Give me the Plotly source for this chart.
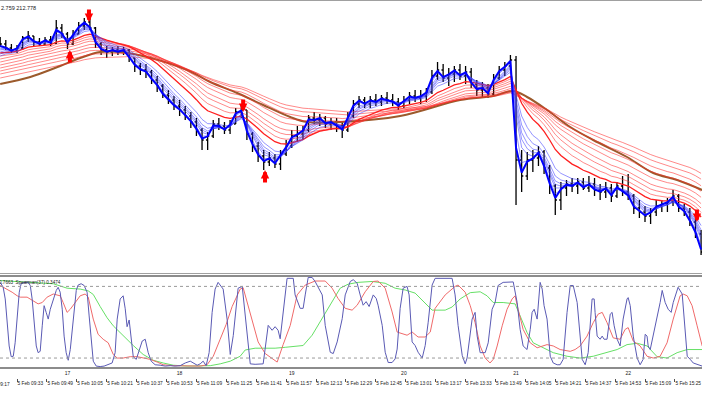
import plotly.graph_objects as go

# ---------------- data ----------------
SESSION_START = "09:24"     # clock time of the first bar
BAR_MINUTES = 3             # bars aggregated to 3 minutes

opens = [213.80, 213.78, 213.76, 213.745, 213.76, 213.81, 213.82, 213.79, 213.78, 213.80,
         213.785, 213.86, 213.83, 213.78, 213.83, 213.87, 213.89, 213.86, 213.78, 213.75,
         213.74, 213.75, 213.74, 213.75, 213.71, 213.67, 213.65, 213.64, 213.60, 213.57,
         213.525, 213.50, 213.47, 213.45, 213.42, 213.39, 213.35, 213.30, 213.32, 213.38,
         213.37, 213.35, 213.38, 213.44, 213.45, 213.33, 213.27, 213.22, 213.19, 213.21,
         213.18, 213.23, 213.27, 213.32, 213.33, 213.35, 213.41, 213.40, 213.41, 213.38,
         213.39, 213.37, 213.35, 213.42, 213.48, 213.50, 213.48, 213.50, 213.49, 213.51,
         213.50, 213.49, 213.47, 213.50, 213.52, 213.51, 213.52, 213.54, 213.62, 213.65,
         213.61, 213.63, 213.65, 213.62, 213.64, 213.58, 213.55, 213.56, 213.53, 213.61,
         213.65, 213.67, 213.70, 213.20, 213.12, 213.20, 213.21, 213.24, 213.16, 213.07,
         213.00, 213.06, 213.08, 213.07, 213.09, 213.06, 213.08, 213.05, 213.04, 213.06,
         213.02, 213.07, 213.04, 213.02, 212.96, 212.94, 212.92, 212.94, 212.97, 212.98,
         212.99, 213.02, 212.96, 212.94, 212.89, 212.83]
highs = [213.815, 213.80, 213.78, 213.775, 213.82, 213.845, 213.82, 213.81, 213.815, 213.82,
         213.90, 213.88, 213.84, 213.85, 213.89, 213.91, 213.92, 213.865, 213.79, 213.77,
         213.765, 213.77, 213.765, 213.755, 213.71, 213.685, 213.68, 213.65, 213.62, 213.58,
         213.55, 213.52, 213.50, 213.47, 213.44, 213.41, 213.36, 213.34, 213.40, 213.41,
         213.39, 213.40, 213.46, 213.48, 213.45, 213.34, 213.29, 213.25, 213.24, 213.23,
         213.25, 213.30, 213.35, 213.37, 213.37, 213.425, 213.44, 213.43, 213.42, 213.41,
         213.41, 213.39, 213.44, 213.50, 213.52, 213.515, 213.52, 213.53, 213.525, 213.54,
         213.53, 213.51, 213.52, 213.54, 213.55, 213.55, 213.56, 213.65, 213.69, 213.68,
         213.66, 213.67, 213.68, 213.67, 213.66, 213.60, 213.59, 213.58, 213.63, 213.67,
         213.69, 213.725, 213.72, 213.25, 213.24, 213.25, 213.27, 213.25, 213.175, 213.08,
         213.09, 213.10, 213.11, 213.11, 213.11, 213.12, 213.11, 213.08, 213.09, 213.08,
         213.09, 213.12, 213.13, 213.03, 213.00, 212.97, 212.96, 213.00, 213.00, 213.01,
         213.05, 213.03, 212.98, 212.96, 212.91, 212.85]
lows = [213.765, 213.75, 213.735, 213.735, 213.75, 213.79, 213.77, 213.77, 213.775, 213.77,
        213.78, 213.81, 213.755, 213.775, 213.83, 213.85, 213.85, 213.76, 213.725, 213.71,
        213.72, 213.725, 213.725, 213.69, 213.64, 213.625, 213.61, 213.58, 213.54, 213.51,
        213.48, 213.45, 213.42, 213.40, 213.36, 213.32, 213.25, 213.25, 213.31, 213.35,
        213.33, 213.33, 213.38, 213.41, 213.30, 213.24, 213.19, 213.15, 213.17, 213.16,
        213.15, 213.22, 213.26, 213.29, 213.30, 213.34, 213.38, 213.37, 213.36, 213.35,
        213.34, 213.31, 213.34, 213.41, 213.46, 213.46, 213.46, 213.47, 213.47, 213.48,
        213.47, 213.45, 213.46, 213.48, 213.49, 213.48, 213.49, 213.53, 213.60, 213.59,
        213.57, 213.59, 213.60, 213.58, 213.56, 213.52, 213.51, 213.51, 213.52, 213.60,
        213.62, 213.65, 212.975, 213.04, 213.10, 213.14, 213.17, 213.13, 213.03, 212.925,
        212.95, 213.02, 213.04, 213.03, 213.05, 213.04, 213.02, 213.00, 213.01, 212.99,
        213.01, 213.02, 213.00, 212.93, 212.91, 212.89, 212.88, 212.92, 212.94, 212.94,
        212.97, 212.94, 212.92, 212.87, 212.81, 212.725]
closes = [213.78, 213.76, 213.745, 213.76, 213.81, 213.82, 213.79, 213.78, 213.80, 213.785,
          213.86, 213.83, 213.78, 213.83, 213.87, 213.89, 213.86, 213.78, 213.75, 213.74,
          213.75, 213.74, 213.75, 213.71, 213.67, 213.65, 213.64, 213.60, 213.57, 213.525,
          213.50, 213.47, 213.45, 213.42, 213.39, 213.35, 213.30, 213.32, 213.38, 213.37,
          213.35, 213.38, 213.44, 213.45, 213.33, 213.27, 213.22, 213.19, 213.21, 213.18,
          213.23, 213.27, 213.32, 213.33, 213.35, 213.41, 213.40, 213.41, 213.38, 213.39,
          213.37, 213.35, 213.42, 213.48, 213.50, 213.48, 213.50, 213.49, 213.51, 213.50,
          213.49, 213.47, 213.50, 213.52, 213.51, 213.52, 213.54, 213.62, 213.65, 213.61,
          213.63, 213.65, 213.62, 213.64, 213.58, 213.55, 213.56, 213.53, 213.61, 213.65,
          213.67, 213.70, 213.20, 213.12, 213.20, 213.21, 213.24, 213.16, 213.07, 213.00,
          213.06, 213.08, 213.07, 213.09, 213.06, 213.08, 213.05, 213.04, 213.06, 213.02,
          213.07, 213.04, 213.02, 212.96, 212.94, 212.92, 212.94, 212.97, 212.98, 212.99,
          213.02, 212.96, 212.94, 212.89, 212.83, 212.74]

# moving-average ribbons: periods (in 1-minute bars) and start values read at the left edge
blue_fast_period, blue_fast_seed = 3, 213.77
blue_periods = [5, 8, 10, 12, 15, 20]
blue_seeds = [213.76, 213.755, 213.75, 213.74, 213.73, 213.72]
red_fast_period, red_fast_seed = 35, 213.735
red_periods = [45, 55, 65, 80, 95, 110, 130, 150]
red_seeds = [213.72, 213.705, 213.69, 213.675, 213.66, 213.645, 213.63, 213.61]

# long (brown) average (minutes after session start, price)
brown_min = [0, 16.1, 32.1, 42.8, 53.5, 64.2, 78.6, 100.0, 112.4, 126.8, 140.7, 155.2, 164.2,
             181.9, 214.0, 246.1, 263.8, 274.5, 281.9, 292.6, 305.0, 317.3, 335.4, 349.4,
             362.2, 375.6]
brown_price = [213.58, 213.615, 213.67, 213.71, 213.74, 213.74, 213.715, 213.65, 213.59, 213.535,
               213.475, 213.415, 213.39, 213.39, 213.42, 213.50, 213.52, 213.545, 213.515, 213.45,
               213.365, 213.30, 213.215, 213.135, 213.10, 213.05]

# signal arrows: tip position (minutes after session start, price)
up_arrow_min = [37.3, 141.7]
up_arrow_price = [213.75, 213.15]
down_arrow_min = [47.5, 130.0, 372.8]
down_arrow_price = [213.89, 213.44, 212.89]

# indicator window (minutes after session start, value)
osc_blue_min = [0, 1.6, 2.7, 3.7, 4.8, 5.9, 7.0, 8.0, 9.1, 10.2, 11.2, 13.4, 15.0, 16.1, 17.1, 18.2,
                19.3, 20.3, 21.4, 22.5, 23.5, 24.6, 25.7, 26.8, 28.4, 30.0, 31.0, 32.1, 33.2, 34.2,
                35.3, 36.4, 37.5, 38.5, 39.6, 40.7, 41.7, 43.3, 44.9, 46.5, 47.6, 48.7, 49.8, 51.4,
                53.5, 55.6, 57.8, 59.9, 61.5, 62.6, 64.2, 65.8, 66.9, 67.9, 69.0, 70.1, 71.2, 72.8,
                74.4, 76.0, 77.6, 79.2, 80.8, 82.9, 85.6, 88.3, 91.0, 93.6, 96.3, 99.0, 101.7, 103.3,
                105.4, 107.0, 108.6, 110.2, 111.8, 113.4, 115.0, 116.6, 119.3, 121.4, 123.1, 124.7,
                127.3, 129.5, 131.1, 133.8, 136.4, 140.7, 143.4, 145.5, 147.1, 148.7, 149.8, 151.4,
                153.5, 156.8, 157.8, 160.5, 162.1, 163.2, 164.8, 166.9, 168.5, 172.3, 173.9, 176.6,
                178.2, 180.3, 183.0, 184.6, 187.3, 188.9, 191.0, 192.6, 194.2, 195.8, 197.4, 199.6,
                201.2, 202.2, 204.4, 206.0, 207.6, 209.7, 211.3, 212.4, 214.0, 215.6, 217.7, 218.8,
                220.4, 222.0, 223.6, 225.8, 227.4, 229.0, 231.1, 232.7, 241.8, 243.4, 245.0, 247.2,
                248.8, 249.8, 251.5, 252.5, 254.1, 255.2, 256.8, 259.5, 261.1, 263.2, 264.8, 266.4,
                269.1, 271.8, 274.5, 276.6, 278.2, 279.8, 281.9, 283.6, 284.6, 285.7, 287.3, 288.9,
                290.0, 291.0, 292.6, 294.3, 295.9, 298.0, 299.6, 301.2, 303.3, 305.0, 306.6, 308.7,
                310.3, 311.4, 313.0, 314.6, 316.7, 317.8, 318.3, 319.4, 321.0, 322.1, 323.1, 324.7,
                326.4, 327.4, 328.5, 330.1, 331.7, 333.3, 335.4, 336.0, 337.1, 338.7, 340.8, 342.4,
                344.0, 345.1, 346.1, 346.7, 347.8, 349.4, 351.5, 353.1, 354.2, 355.8, 357.4, 359.0,
                360.1, 362.2, 362.7, 364.9, 366.5, 367.6, 369.2, 370.8, 375.6]
osc_blue = [0.89, 0.78, 0.52, 0.07, -0.53, -0.77, -0.76, -0.46, 0.22, 0.67, 0.86, 0.89, 0.89, 0.82, 0.52, -0.01,
            -0.53, -0.68, -0.65, -0.08, 0.37, 0.22, 0.07, 0.29, 0.52, 0.71, 0.78, 0.67, 0.29, -0.31,
            -0.68, -0.85, -0.61, -0.16, 0.37, 0.71, 0.83, 0.86, 0.82, 0.67, 0.14, -0.46, -0.87, -0.98,
            -0.99, -0.98, -0.95, -0.91, -0.68, 0.07, 0.52, 0.59, 0.30, -0.10, 0.05, -0.45, -0.77, -0.83,
            -0.61, -0.42, -0.38, -0.68, -0.87, -0.95, -0.96, -0.98, -0.97, -0.98, -0.97, -0.91, -0.87, -0.91,
            -0.96, -0.93, -0.87, -0.97, -0.68, 0.22, 0.74, 0.89, 0.74, 0.07, -0.72, -0.30,
            0.76, 0.80, 0.20, -0.93, -0.94, -0.93, -0.07, -0.18, -0.10, -0.18, -0.37, 0.20,
            0.98, 0.98, 0.61, 0.31, 0.31, 0.61, 1.0, 1.0, 0.91, 0.61, -0.07, -0.67,
            -0.70, -0.44, 0.08, 0.61, 0.91, 0.95, 0.87, 0.61, 0.38, 0.46, 0.35, 0.61,
            0.53, 0.38, -0.07, -0.67, -0.90, -0.90, -0.82, -0.60, 0.31, 0.76, 0.80, 0.61,
            -0.44, -0.52, -0.67, -0.80, -0.52, 0.00, 0.83, 0.98, 0.98, 0.61, -0.07, -0.74,
            -0.93, -0.80, -0.20, 0.07, 0.22, -0.31, -0.68, -0.68, -0.46, 0.29, 0.44, 0.82,
            0.89, 0.89, 0.90, 0.44, -0.16, -0.53, -0.61, -0.16, 0.22, 0.29, 0.07, 0.89,
            0.74, 0.37, 0.07, -0.76, -0.91, -0.95, -0.95, -0.83, 0.22, 0.82, 0.82, 0.44,
            -0.23, -0.83, -0.95, -0.68, 0.52, 0.52, 0.22, -0.31, -0.38, -0.31, -0.38, -0.38,
            0.18, 0.22, -0.08, -0.38, -0.53, 0.07, 0.52, 0.55, 0.37, -0.31, -0.80, -0.95,
            -0.83, -0.27, -0.31, -0.53, -0.61, -0.31, 0.07, 0.44, 0.71, 0.44, 0.29, 0.22,
            0.44, 0.74, 0.78, 0.63, -0.16, -0.76, -0.83, -0.91, -0.98]
osc_red_min = [0, 3.7, 6.4, 9.1, 10.7, 14.4, 17.7, 20.3, 22.5, 25.1, 28.4, 32.1, 33.7, 35.8, 37.5, 40.1,
               42.8, 45.5, 47.1, 49.8, 52.4, 55.1, 57.8, 60.5, 62.6, 65.8, 69.6, 73.3, 76.5, 80.3,
               84.0, 87.2, 92.6, 100.0, 107.0, 110.7, 114.0, 117.7, 120.9, 124.1, 128.4, 130.0,
               133.8, 138.0, 141.8, 145.5, 148.2, 151.4, 155.2, 158.9, 163.2, 168.5, 173.9, 177.6,
               180.8, 184.6, 188.3, 191.0, 195.3, 199.6, 202.2, 206.0, 209.7, 212.4, 215.1, 217.7,
               220.4, 223.6, 227.4, 230.1, 232.7, 238.1, 243.4, 245.0, 248.8, 251.5, 254.1, 256.8,
               259.5, 262.1, 263.8, 265.9, 268.6, 271.2, 273.9, 275.5, 277.1, 279.8, 283.6, 287.3,
               292.6, 295.9, 299.6, 305.0, 307.6, 310.3, 314.0, 317.3, 319.9, 322.1, 324.7, 328.0,
               331.7, 334.4, 336.0, 338.7, 342.4, 346.1, 349.4, 353.1, 356.8, 360.1, 363.8, 365.4,
               367.6, 370.2, 372.9, 375.6]
osc_red = [0.82, 0.74, 0.67, 0.59, 0.56, 0.56, 0.48, 0.41, 0.44, 0.56, 0.63, 0.59, 0.44, 0.22, 0.29, 0.44,
           0.59, 0.63, 0.56, 0.07, -0.27, -0.38, -0.46, -0.72, -0.80, -0.80, -0.77, -0.77, -0.80, -0.83,
           -0.89, -0.95, -0.97, -0.98, -0.98, -0.95, -0.76, -0.38, -0.05, 0.35, 0.74, 0.77,
           0.20, -0.44, -0.70, -0.82, -0.89, -0.50, -0.07, 0.61, 0.83, 0.92, 0.92, 0.76,
           0.53, 0.31, 0.27, 0.38, 0.68, 0.91, 0.92, 0.76, 0.23, -0.22, -0.26, -0.29,
           -0.22, -0.33, -0.33, -0.22, 0.31, 0.61, 0.80, 0.83, 0.67, 0.37, -0.01, -0.53,
           -0.80, -0.91, -0.83, -0.53, -0.08, 0.29, 0.52, 0.59, 0.29, -0.16, -0.46, -0.57,
           -0.50, -0.53, -0.61, -0.65, -0.61, -0.53, -0.31, -0.01, 0.18, 0.22, -0.01, -0.35,
           -0.38, -0.16, -0.12, -0.42, -0.53, -0.76, -0.80, -0.76, -0.46, 0.07, 0.59, 0.63,
           0.59, 0.37, -0.08, -0.53]
osc_green_min = [0, 10.7, 17.7, 28.4, 35.8, 42.8, 47.1, 49.8, 53.5, 57.2, 60.5, 65.8, 71.2, 76.5, 81.9,
                 87.2, 92.6, 100.0, 107.0, 112.4, 117.7, 123.1, 128.4, 131.1, 136.4, 147.1, 152.5,
                 157.8, 162.1, 166.9, 172.3, 177.6, 181.9, 186.2, 191.5, 199.0, 206.0, 211.3, 216.7,
                 222.0, 227.4, 231.1, 238.1, 241.8, 246.1, 251.5, 256.8, 260.5, 263.8, 269.1, 275.5,
                 278.2, 281.9, 285.2, 290.5, 295.9, 303.3, 310.3, 317.3, 324.7, 330.1, 335.4, 340.8,
                 346.1, 351.5, 356.8, 362.2, 367.6, 375.6]
osc_green = [0.93, 0.90, 0.88, 0.86, 0.76, 0.74, 0.70, 0.62, 0.35, 0.10, -0.08, -0.30, -0.52, -0.72, -0.85,
             -0.91, -0.96, -0.98, -0.98, -0.97, -0.93, -0.87, -0.76, -0.62, -0.58, -0.58, -0.56,
             -0.53, -0.52, -0.29, 0.08, 0.46, 0.76, 0.85, 0.89, 0.91, 0.87, 0.76, 0.72,
             0.65, 0.42, 0.27, 0.27, 0.34, 0.52, 0.66, 0.68, 0.59, 0.44, 0.44, 0.41,
             0.14, -0.23, -0.46, -0.57, -0.68, -0.76, -0.80, -0.76, -0.68, -0.61, -0.50, -0.47,
             -0.53, -0.77, -0.80, -0.68, -0.61, -0.61]
osc_levels = [0.8, -0.8]

# axis labels
time_labels = ["09:33", "09:49", "10:05", "10:21", "10:37", "10:53", "11:09", "11:25", "11:41", "11:57",
               "12:13", "12:29", "12:45", "13:01", "13:17", "13:33", "13:49", "14:05", "14:21", "14:37",
               "14:53", "15:09", "15:25"]
hour_times = ["10:00", "11:00", "12:00", "13:00", "14:00", "15:00"]
hour_labels = ["17", "18", "19", "20", "21", "22"]
header_text = "2.759 212.778"
osc_text = "0.7663  Spearman(37) 0.3474"

# ---------------- helpers ----------------
def clock_to_min(hhmm):
    h, m = hhmm.split(":")
    h0, m0 = SESSION_START.split(":")
    return (int(h) * 60 + int(m)) - (int(h0) * 60 + int(m0))


def ema(values, period, seed):
    a1 = 2.0 / (period + 1)
    a = 1 - (1 - a1) ** BAR_MINUTES
    out = [seed]
    for v in values[1:]:
        out.append(out[-1] + a * (v - out[-1]))
    return out


bar_min = [i * BAR_MINUTES for i in range(len(closes))]
X_RANGE = [-0.1, 375.5]

W, H = 702, 395
def py(px):  # pixel row -> paper fraction
    return 1 - px / H

FONT = "Liberation Sans"

fig = go.Figure()

# moving averages (behind the bars)
fig.add_trace(go.Scatter(x=brown_min, y=brown_price, mode="lines", line_shape="spline",
                         line=dict(color="#9c5a2c", width=2), xaxis="x", yaxis="y"))
for p, s in zip(red_periods[::-1], red_seeds[::-1]):
    fig.add_trace(go.Scatter(x=bar_min, y=ema(closes, p, s), mode="lines",
                             line=dict(color="rgba(255,40,40,0.55)", width=1), xaxis="x", yaxis="y"))
fig.add_trace(go.Scatter(x=bar_min, y=ema(closes, red_fast_period, red_fast_seed), mode="lines",
                         line=dict(color="#ff2020", width=1.3), xaxis="x", yaxis="y"))
for p, s in zip(blue_periods[::-1], blue_seeds[::-1]):
    fig.add_trace(go.Scatter(x=bar_min, y=ema(closes, p, s), mode="lines",
                             line=dict(color="rgba(60,60,255,0.55)", width=1), xaxis="x", yaxis="y"))

# price bars
fig.add_trace(go.Ohlc(x=bar_min, open=opens, high=highs, low=lows, close=closes,
                      increasing=dict(line=dict(color="black", width=1.3)),
                      decreasing=dict(line=dict(color="black", width=1.3)),
                      tickwidth=0.3, xaxis="x", yaxis="y", hoverinfo="skip"))

fig.add_trace(go.Scatter(x=bar_min, y=ema(closes, blue_fast_period, blue_fast_seed), mode="lines",
                         line=dict(color="#0000ff", width=2), xaxis="x", yaxis="y"))

# oscillator window
fig.add_trace(go.Scatter(x=osc_green_min, y=osc_green, mode="lines",
                         line=dict(color="#66e066", width=1), xaxis="x2", yaxis="y2"))
fig.add_trace(go.Scatter(x=osc_red_min, y=osc_red, mode="lines",
                         line=dict(color="#f06a6a", width=1), xaxis="x2", yaxis="y2"))
fig.add_trace(go.Scatter(x=osc_blue_min, y=osc_blue, mode="lines",
                         line=dict(color="#5a5ab4", width=1), xaxis="x2", yaxis="y2"))
# carrier for the time scale
fig.add_trace(go.Scatter(x=[], y=[], xaxis="x3", yaxis="y2"))

for lvl in osc_levels:
    fig.add_shape(type="line", xref="x2 domain", x0=0, x1=1, yref="y2", y0=lvl, y1=lvl,
                  line=dict(color="#9a9a9a", width=1, dash="dot"))

# signal arrows (block arrows: shaft + head)
for xm, yp in zip(up_arrow_min, up_arrow_price):
    fig.add_annotation(x=xm, y=yp, xref="x", yref="y", text="", showarrow=True,
                       arrowhead=2, arrowsize=0.42, arrowwidth=4, arrowcolor="#ff0000", ax=0, ay=14)
for xm, yp in zip(down_arrow_min, down_arrow_price):
    fig.add_annotation(x=xm, y=yp, xref="x", yref="y", text="", showarrow=True,
                       arrowhead=2, arrowsize=0.42, arrowwidth=4, arrowcolor="#ff0000", ax=0, ay=-14)

axis_common = dict(showgrid=False, zeroline=False, range=X_RANGE, automargin=False)
fig.update_layout(
    width=W, height=H, autosize=False,
    margin=dict(l=0, r=0, t=0, b=0, pad=0),
    paper_bgcolor="white", plot_bgcolor="white",
    showlegend=False, hovermode=False,
    font=dict(family=FONT, size=5, color="#202020"),
    xaxis=dict(domain=[0, 1], anchor="y", showticklabels=False, ticks="",
               showline=True, mirror=True, linecolor="#a0a0a0", linewidth=1,
               rangeslider=dict(visible=False), **axis_common),
    yaxis=dict(domain=[py(273), py(1)], range=[212.635, 213.995], showticklabels=False,
               showgrid=False, zeroline=False, ticks="", automargin=False),
    xaxis2=dict(domain=[0, 1], anchor="y2", tickvals=[clock_to_min(t) for t in hour_times],
                ticktext=hour_labels, ticks="", tickangle=0, tickfont=dict(size=5, color="#202020"),
                showline=True, mirror=True, linecolor="#8c8c8c", linewidth=2, **axis_common),
    yaxis2=dict(domain=[py(367), py(277)], range=[-1.0, 1.01], showticklabels=False,
                showgrid=False, zeroline=False, ticks="", automargin=False),
    xaxis3=dict(overlaying="x2", anchor="free", position=py(378),
                tickvals=[clock_to_min(t) for t in time_labels],
                ticktext=["5 Feb " + t for t in time_labels], tickangle=0,
                ticks="outside", ticklen=3, tickcolor="#505050", ticklabelposition="outside right",
                tickfont=dict(size=4.8, color="#202020"), showline=False, **axis_common),
)

fig.add_annotation(text=header_text, xref="paper", yref="paper", x=-0.001, y=py(8),
                   xanchor="left", yanchor="middle", showarrow=False,
                   font=dict(size=5.5, color="#202020"))
fig.add_annotation(text=osc_text, xref="paper", yref="paper", x=-0.004, y=py(282),
                   xanchor="left", yanchor="middle", showarrow=False,
                   font=dict(size=4.6, color="#202020"))
fig.add_annotation(text="5 Feb 09:17", xref="paper", yref="paper", x=12 / W, y=py(384),
                   xanchor="right", yanchor="middle", showarrow=False,
                   font=dict(size=4.8, color="#202020"))

fig.write_html("out.html", config={"displayModeBar": False},
               post_script="document.body.style.margin='0';")
